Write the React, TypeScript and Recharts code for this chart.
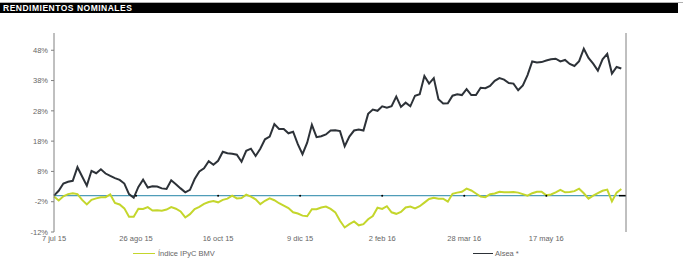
import React from "react"
import { LineChart, Line, XAxis, YAxis, ReferenceLine, ReferenceDot } from "recharts"

// Rendimientos nominales (%), una lectura cada dos sesiones desde el 7 jul 15
const alsea = [
  0, 1.6, 4.0, 4.6, 4.9, 9.4, 6.3, 3.3, 8.2, 7.4,
  8.7, 7.3, 6.5, 5.8, 5.2, 4.0, 0.5, -0.7, 2.9, 5.3,
  2.7, 3.1, 3.0, 2.4, 2.2, 5.1, 3.8, 2.4, 1.1, 1.9,
  5.5, 8.0, 9.0, 11.4, 10.2, 11.5, 14.5, 14.0, 13.8, 13.5,
  11.2, 14.8, 15.5, 13.1, 15.5, 18.6, 19.5, 23.6, 22.0, 22.0,
  20.6, 21.1, 17.0, 13.7, 17.5, 23.4, 19.3, 19.6, 20.2, 21.5,
  21.6, 21.3, 16.3, 19.5, 21.5, 21.8, 21.5, 27.0, 28.4, 28.0,
  29.5, 29.0, 29.5, 32.7, 29.3, 30.7, 29.5, 33.0, 33.5, 39.5,
  37.0, 38.8, 31.8, 30.4, 30.5, 33.0, 33.5, 33.2, 35.2, 33.2,
  33.2, 35.6, 35.5, 36.2, 37.9, 38.8, 38.3, 37.2, 37.0, 34.8,
  36.4, 39.8, 44.3, 44.0, 44.1, 44.6, 45.0, 45.2, 44.3, 44.8,
  43.5, 42.8, 44.4, 48.5, 45.5, 43.6, 41.3, 45.0, 46.8, 40.3,
  42.5, 42.0,
]

const ipyc = [
  -0.3, -1.6, -0.2, 0.5, 0.8, 0.5, -1.4, -2.9, -1.4, -0.9,
  -0.5, -0.5, 0.4, -2.4, -2.9, -4.2, -7.0, -7.0, -4.3, -4.4,
  -3.8, -4.9, -4.8, -5.0, -4.6, -3.8, -4.3, -5.2, -7.2, -6.1,
  -4.4, -3.7, -2.7, -2.1, -1.8, -2.2, -1.4, -1.0, 0.0, -0.9,
  -0.8, 0.3, -0.3, -1.2, -2.8, -1.7, -0.9, -1.5, -2.5, -3.3,
  -4.1, -5.5, -5.9, -6.6, -6.8, -4.5, -4.5, -3.9, -3.6, -4.4,
  -5.5, -8.3, -10.5, -9.4, -8.5, -9.8, -9.4, -7.8, -6.7, -4.0,
  -4.4, -3.5, -5.5, -6.0, -5.4, -3.9, -3.6, -4.2, -3.5, -2.3,
  -1.1, -0.7, -1.0, -1.0, -2.0, 0.6, 1.0, 1.3, 2.3, 1.7,
  0.7, -0.3, -0.5, 0.5, 0.7, 1.3, 1.1, 1.1, 1.2, 1.0,
  0.5, 0.0, 0.8, 1.3, 1.3, 0.1, 0.4, 1.1, 1.9, 1.1,
  1.2, 1.5, 2.3, 0.8, -1.0, 0.0, 0.8, 1.6, 2.0, -1.9,
  1.0, 2.2,
]

const tickDays = [0, 35, 70, 105, 140, 175, 210]
const tickLabels = ["7 jul 15", "26 ago 15", "16 oct 15", "9 dic 15", "2 feb 16", "28 mar 16", "17 may 16"]
const yTicks = [-12, -2, 8, 18, 28, 38, 48]

const data = alsea.map((v, i) => ({ t: i * 2, alsea: v, ipyc: ipyc[i] }))

const FONT = "'Liberation Sans', Arial, sans-serif"
const AXIS = "#808080"
const TXT = "#666666"
const GREEN = "#c4d62c"
const DARK = "#2d3238"

const tickStyle = { fontSize: 7.5, fill: TXT, fontFamily: FONT }

export default function App() {
  return (
    <div style={{ position: "absolute", left: 0, top: 0, width: 683, height: 260, background: "#fff", fontFamily: FONT }}>
      <div style={{ position: "absolute", left: 0, top: 2, width: 683, height: 1, background: "#b0b0b0" }} />
      <div
        style={{
          position: "absolute", left: 0, top: 3, width: 678, height: 10, background: "#000",
          color: "#fff", fontWeight: "bold", fontSize: 8.5, lineHeight: "10px", paddingLeft: 3,
          letterSpacing: 0.5, boxSizing: "border-box",
        }}
      >
        RENDIMIENTOS NOMINALES
      </div>
      <LineChart width={683} height={260} data={data} margin={{ top: 33, right: 0, bottom: 0, left: 0 }}>
        <XAxis
          dataKey="t"
          type="number"
          domain={[0, 244]}
          ticks={tickDays}
          tickFormatter={(v) => tickLabels[tickDays.indexOf(v)]}
          axisLine={false}
          tickLine={false}
          tickSize={0}
          tickMargin={4}
          height={28}
          tick={tickStyle}
        />
        <YAxis
          yAxisId="left"
          domain={[-12, 53.7]}
          ticks={yTicks}
          tickFormatter={(v) => `${v}%`}
          width={54}
          stroke={AXIS}
          tickSize={3}
          tickMargin={3}
          tick={tickStyle}
        />
        <YAxis
          yAxisId="right"
          orientation="right"
          domain={[-12, 53.7]}
          ticks={yTicks}
          tickFormatter={(v) => `${v}%`}
          width={57}
          stroke={AXIS}
          tickSize={3}
          tickMargin={4}
          tick={{ ...tickStyle, textAnchor: "start" }}
        />
        <ReferenceLine yAxisId="left" y={0} stroke="#4f9db8" strokeWidth={1.2} />
        <ReferenceLine
          yAxisId="left"
          segment={[{ x: 241, y: 0 }, { x: 244, y: 0 }]}
          stroke="#000"
          strokeWidth={1.5}
        />
        {tickDays.slice(1).map((d) => (
          <ReferenceDot key={d} yAxisId="left" x={d} y={0} r={1} fill="#000" stroke="none" />
        ))}
        <Line
          yAxisId="left"
          type="linear"
          dataKey="ipyc"
          stroke={GREEN}
          strokeWidth={2}
          dot={false}
          isAnimationActive={false}
        />
        <Line
          yAxisId="left"
          type="linear"
          dataKey="alsea"
          stroke={DARK}
          strokeWidth={2}
          dot={false}
          isAnimationActive={false}
        />
      </LineChart>
      <div style={{ position: "absolute", left: 133, top: 249, display: "flex", alignItems: "center", fontSize: 7.5, color: TXT }}>
        <div style={{ width: 22, height: 1.5, background: GREEN, marginRight: 3 }} />
        Índice IPyC BMV
      </div>
      <div style={{ position: "absolute", left: 473, top: 249, display: "flex", alignItems: "center", fontSize: 7.5, color: TXT }}>
        <div style={{ width: 20, height: 1.5, background: DARK, marginRight: 2 }} />
        Alsea *
      </div>
    </div>
  )
}
